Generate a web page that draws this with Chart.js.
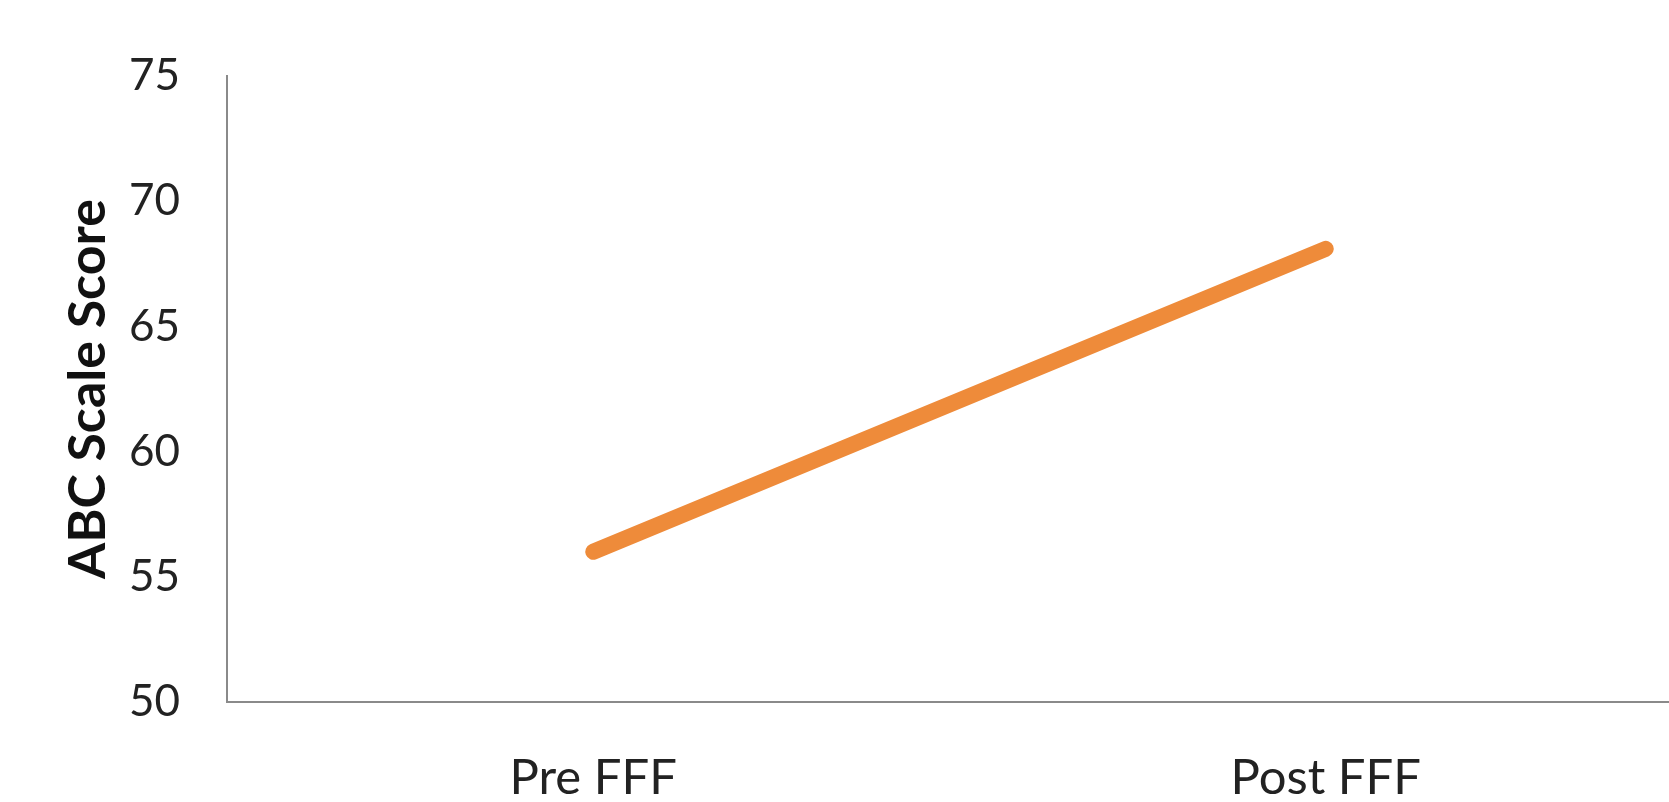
<!DOCTYPE html>
<html>
<head>
<meta charset="utf-8">
<script src="https://cdn.jsdelivr.net/npm/chart.js@4"></script>
<style>
  html, body { margin: 0; padding: 0; background: #fff; overflow: hidden; }
  #wrap { position: absolute; left: 0; top: 0; width: 1700px; height: 802px; }
</style>
</head>
<body>
<div id="wrap"><canvas id="scoreChart"></canvas></div>
<script>
const categories = ['Pre FFF', 'Post FFF'];
const scores = [56.0, 68.1];
const yMin = 50;
const yMax = 75;
const yStep = 5;

const ctx = document.getElementById('scoreChart').getContext('2d');

new Chart(ctx, {
    type: 'line',
    data: {
        labels: categories,
        datasets: [{
            label: 'ABC Scale Score',
            data: scores,
            borderColor: '#ee8b3a',
            borderWidth: 16,
            borderCapStyle: 'round',
            pointRadius: 0,
            tension: 0
        }]
    },
    options: {
        responsive: true,
        maintainAspectRatio: false,
        animation: false,
        layout: { padding: { top: 76, right: 8, left: 0, bottom: 0 } },
        plugins: {
            legend: { display: false },
            tooltip: { enabled: false }
        },
        scales: {
            x: {
                offset: true,
                grid: { display: false, drawTicks: false },
                border: { display: true, color: '#8a8a8a', width: 2 },
                ticks: {
                    color: '#222',
                    padding: 47,
                    font: { family: 'Lato', size: 49 }
                },
                afterFit: scale => { scale.height = 100; }
            },
            y: {
                min: yMin,
                max: yMax,
                grid: { display: false, drawTicks: false },
                border: { display: true, color: '#8a8a8a', width: 2 },
                ticks: {
                    stepSize: yStep,
                    color: '#222',
                    padding: 47,
                    font: { family: 'Lato', size: 44 }
                },
                title: {
                    display: true,
                    text: 'ABC Scale Score',
                    color: '#111',
                    padding: { top: 57, bottom: 0 },
                    font: { family: 'Lato', size: 52, weight: 'bold' }
                },
                afterFit: scale => { scale.width = 227; }
            }
        }
    }
});
</script>
</body>
</html>
